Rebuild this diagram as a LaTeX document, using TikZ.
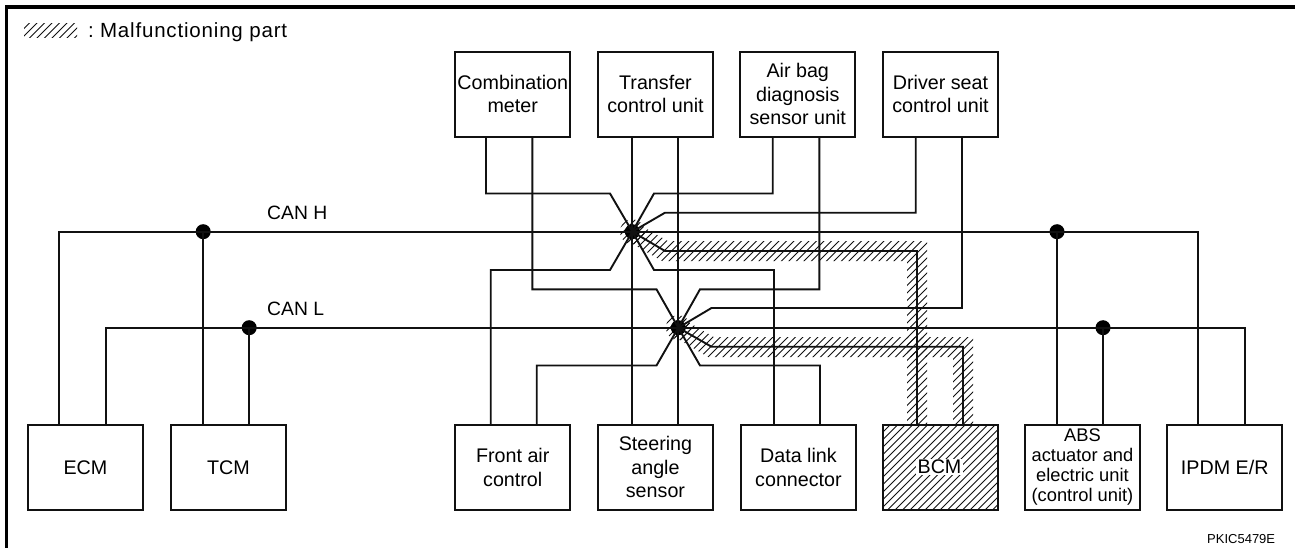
\documentclass[tikz,border=0pt]{standalone}
\usepackage{fontspec}
\setmainfont{Liberation Sans}
\definecolor{ink}{HTML}{111111}
\newcommand{\hatchlines}[2]{\foreach \c in {#1,#2,...,1900} {\draw[hatchline] (\c,0) -- (\c-560,560);}}
\tikzset{
  unit/.style={draw=ink,line width=1.9pt,minimum width=115pt,minimum height=85pt,inner sep=0pt,anchor=north west,align=center,font=\fontsize{19.7}{23.5}\selectfont,text=black},
  wire/.style={draw=ink,line width=1.9pt,line join=miter},
  hub/.style={circle,fill=black,inner sep=0pt,minimum size=15pt},
  hatchline/.style={draw=ink,line width=0.9pt},
  txt/.style={inner sep=0pt,anchor=base west,text=black}
}
\begin{document}
\begin{tikzpicture}[x=1pt,y=-1pt]
\useasboundingbox (0,0) rectangle (1295,548);
\fill[white] (0,0) rectangle (1295,548);
% hatched bands
\begin{scope}
\clip (637,223.3) -- (667.7,241) -- (927,241) -- (927,424) -- (907,424) -- (907,261) -- (662,261) -- (627,240.7) -- cycle;
\hatchlines{600}{607.5}
\end{scope}
\begin{scope}
\clip (683,319) -- (713.7,337) -- (973,337) -- (973,424) -- (953,424) -- (953,357) -- (708,357) -- (673,336) -- cycle;
\hatchlines{600}{607.5}
\end{scope}
\begin{scope}
\clip (632.3,231.7) circle (12.5);
\hatchlines{600}{607.5}
\end{scope}
\begin{scope}
\clip (678.3,327.7) circle (12.5);
\hatchlines{600}{607.5}
\end{scope}
% legend hatch
\begin{scope}
\clip (24,24) -- (77,24) -- (77,38) -- (24,38) -- cycle;
\hatchlines{30}{37.5}
\end{scope}
% BCM hatch
\begin{scope}
\clip (883,424) rectangle (997,509);
\hatchlines{1300}{1307.5}
\end{scope}
% frame
\fill[black] (5,5.5) rectangle (1295,9);
\fill[black] (5,5.5) rectangle (8,548);
% units
\node[unit] (comb) at (454.3,50.7) {Combination\\meter};
\node[unit] (transfer) at (597,50.7) {Transfer\\control unit};
\node[unit] (airbag) at (739.3,50.7) {Air bag\\diagnosis\\sensor unit};
\node[unit] (driver) at (882,50.7) {Driver seat\\control unit};
\node[unit] (ecm) at (27,424) {ECM};
\node[unit] (tcm) at (170,424) {TCM};
\node[unit] (front) at (454.3,424) {Front air\\control};
\node[unit] (steer) at (597,424) {Steering\\angle\\sensor};
\node[unit] (dlc) at (740,424) {Data link\\connector};
\node[unit] (bcm) at (882.3,424) {};
\node[inner sep=1.5pt,fill=white,font=\fontsize{19.7}{24}\selectfont] (bcmlabel) at (939.5,467) {BCM};
\node[unit,font=\fontsize{18.3}{20}\selectfont] (abs) at (1024,424) {ABS\\actuator and\\electric unit\\(control unit)};
\node[unit] (ipdm) at (1166.3,424) {IPDM E/R};
% hubs
\node[hub] (hubH) at (632.3,231.7) {};
\node[hub] (hubL) at (678.3,327.7) {};
\node[hub] (dotECM) at (203.2,231.7) {};
\node[hub] (dotTCM) at (249.2,327.7) {};
\node[hub] (dotABS) at (1057,231.7) {};
\node[hub] (dotABSL) at (1103,327.7) {};
% bends
\coordinate (hnw) at (610,193.5);
\coordinate (hne) at (654,193.5);
\coordinate (hene) at (665,212.7);
\coordinate (hese) at (665,251);
\coordinate (hse) at (654,270);
\coordinate (hsw) at (610,270);
\coordinate (lnw) at (656.5,289.3);
\coordinate (lne) at (700,289.3);
\coordinate (lene) at (711.5,308);
\coordinate (lese) at (711.5,346.7);
\coordinate (lse) at (700,365.5);
\coordinate (lsw) at (656.5,365.5);
% buses
\draw[wire] ([xshift=31.7pt]ecm.north west) |- (hubH.center) -| ([xshift=31.7pt]ipdm.north west);
\draw[wire] ([xshift=79pt]ecm.north west) |- (hubL.center) -| ([xshift=78.7pt]ipdm.north west);
\draw[wire] ([xshift=33.2pt]tcm.north west) -- (dotECM.center);
\draw[wire] ([xshift=79.2pt]tcm.north west) -- (dotTCM.center);
\draw[wire] ([xshift=33pt]abs.north west) -- (dotABS.center);
\draw[wire] ([xshift=79pt]abs.north west) -- (dotABSL.center);
% through wires
\draw[wire] ([xshift=35.3pt]transfer.south west) -- ([xshift=35.3pt]steer.north west);
\draw[wire] ([xshift=81.3pt]transfer.south west) -- ([xshift=81.3pt]steer.north west);
% CAN H branches
\draw[wire] ([xshift=31.7pt]comb.south west) |- (hnw) -- (hubH.center);
\draw[wire] ([xshift=33.4pt]airbag.south west) |- (hne) -- (hubH.center);
\draw[wire] ([xshift=33.7pt]driver.south west) |- (hene) -- (hubH.center);
\draw[wire] ([xshift=36.4pt]front.north west) |- (hsw) -- (hubH.center);
\draw[wire] ([xshift=34pt]dlc.north west) |- (hse) -- (hubH.center);
\draw[wire] ([xshift=34.7pt]bcm.north west) |- (hese) -- (hubH.center);
% CAN L branches
\draw[wire] ([xshift=78pt]comb.south west) |- (lnw) -- (hubL.center);
\draw[wire] ([xshift=80pt]airbag.south west) |- (lne) -- (hubL.center);
\draw[wire] ([xshift=80pt]driver.south west) |- (lene) -- (hubL.center);
\draw[wire] ([xshift=82.4pt]front.north west) |- (lsw) -- (hubL.center);
\draw[wire] ([xshift=80pt]dlc.north west) |- (lse) -- (hubL.center);
\draw[wire] ([xshift=80.7pt]bcm.north west) |- (lese) -- (hubL.center);
% labels
\node[txt,font=\fontsize{20.5}{24}\selectfont\addfontfeature{LetterSpace=4}] (legend) at (88,38) {:\hspace{0.3em}Malfunctioning part};
\node[txt,font=\fontsize{19.3}{24}\selectfont] (canh) at (267,219) {CAN H};
\node[txt,font=\fontsize{19.3}{24}\selectfont] (canl) at (267,315) {CAN L};
\node[txt,font=\fontsize{13}{15}\selectfont] (code) at (1207,543) {PKIC5479E};
\end{tikzpicture}
\end{document}
